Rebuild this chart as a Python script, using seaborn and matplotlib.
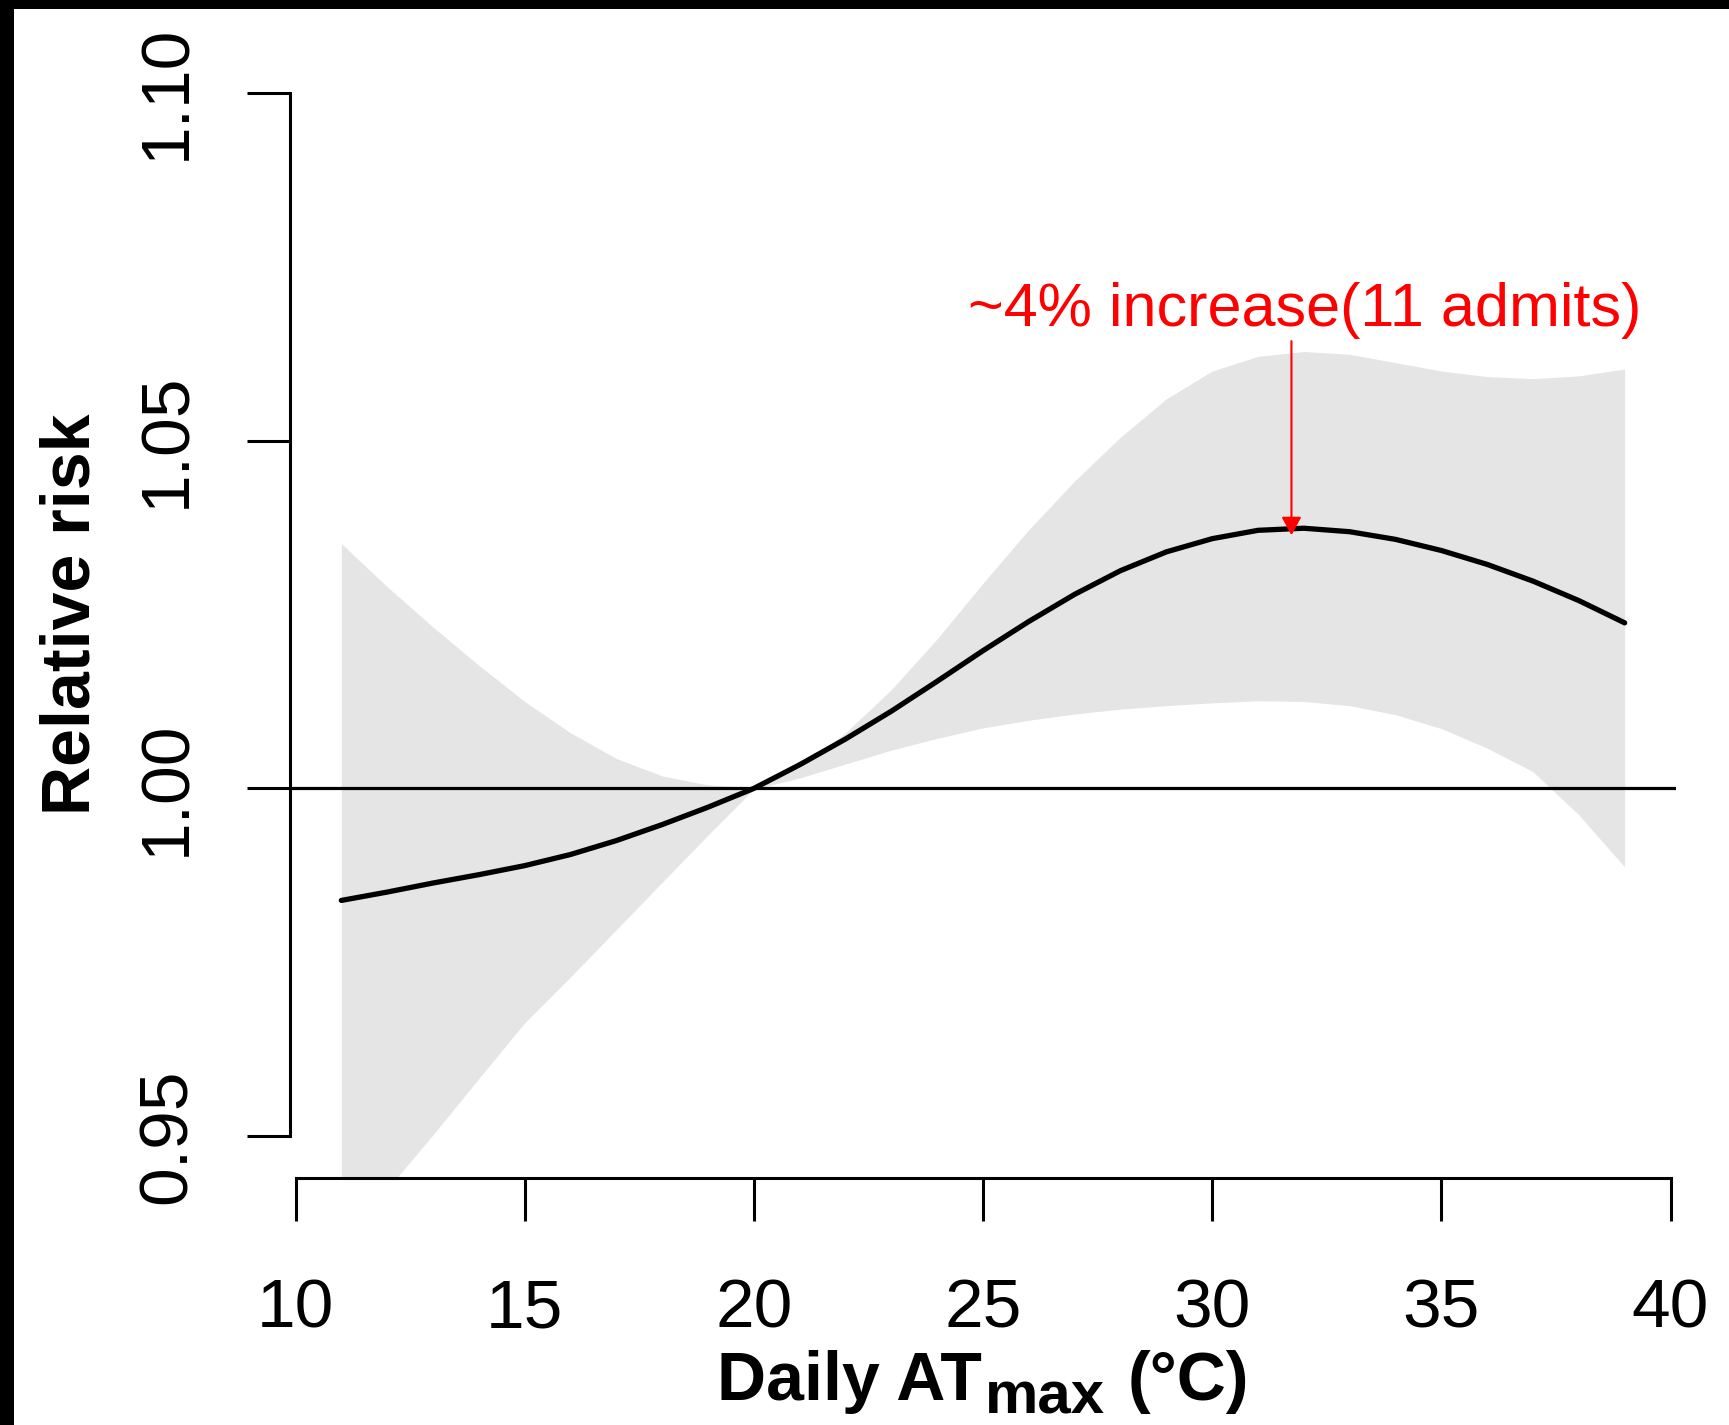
import matplotlib
matplotlib.use("Agg")
import matplotlib.pyplot as plt
from matplotlib.patches import Rectangle
import seaborn as sns

# ---------------- data ----------------
temp = [11, 12, 13, 14, 15, 16, 17, 18, 19, 20,
        21, 22, 23, 24, 25, 26, 27, 28, 29, 30,
        31, 32, 33, 34, 35, 36, 37, 38, 39]
rr = [0.9839, 0.9851, 0.9864, 0.9876, 0.9889, 0.9905, 0.9925, 0.9948, 0.9973, 1.0000,
      1.0034, 1.0071, 1.0111, 1.0154, 1.0198, 1.0240, 1.0279, 1.0313, 1.0340, 1.0359,
      1.0371, 1.0374, 1.0369, 1.0358, 1.0342, 1.0322, 1.0298, 1.0270, 1.0238]
rr_low = [0.9345, 0.9424, 0.9502, 0.9583, 0.9663, 0.9729, 0.9797, 0.9865, 0.9933, 0.9999,
          1.0015, 1.0035, 1.0055, 1.0072, 1.0087, 1.0098, 1.0107, 1.0114, 1.0119, 1.0123,
          1.0126, 1.0125, 1.0119, 1.0106, 1.0086, 1.0058, 1.0024, 0.9962, 0.9887]
rr_high = [1.0352, 1.0290, 1.0232, 1.0177, 1.0125, 1.0080, 1.0043, 1.0018, 1.0005, 1.0001,
           1.0030, 1.0080, 1.0142, 1.0215, 1.0295, 1.0372, 1.0442, 1.0505, 1.0560, 1.0600,
           1.0621, 1.0628, 1.0624, 1.0612, 1.0600, 1.0592, 1.0589, 1.0593, 1.0603]
x_ticks = [10, 15, 20, 25, 30, 35, 40]
y_ticks = [0.95, 1.00, 1.05, 1.10]
y_tick_labels = ["0.95", "1.00", "1.05", "1.10"]
ref_rr = 1.0
note_text = "~4% increase(11 admits)"
note_x, note_y = 32.02, 1.0665
arrow_x, arrow_from, arrow_to = 31.73, 1.0643, 1.0364

# ---------------- figure ----------------
sns.set_theme(style="white")
plt.rcParams["font.family"] = ["Liberation Sans", "DejaVu Sans"]
plt.rcParams["text.color"] = "black"
plt.rcParams["axes.labelcolor"] = "black"

W, H, DPI = 1729, 1425, 100
fig = plt.figure(figsize=(W / DPI, H / DPI), dpi=DPI)
fig.patch.set_facecolor("white")
ax = fig.add_axes([290 / W, 1 - 1178 / H, (1676 - 290) / W, (1178 - 51) / H])
ax.set_facecolor("white")

ax.fill_between(temp, rr_low, rr_high, color="#e5e5e5", lw=0, zorder=1)
ax.axhline(ref_rr, color="black", lw=2.3, zorder=2)
sns.lineplot(x=temp, y=rr, ax=ax, color="black", lw=3.8, zorder=3)

ax.set_xlim(9.88, 40.12)
ax.set_ylim(0.944, 1.106)

for s in ["top", "right"]:
    ax.spines[s].set_visible(False)
for s in ["left", "bottom"]:
    ax.spines[s].set_color("black")
    ax.spines[s].set_linewidth(2.2)
ax.spines["left"].set_bounds(0.95, 1.10)
ax.spines["bottom"].set_bounds(10, 40)

ax.set_xticks(x_ticks)
ax.set_xticklabels([str(t) for t in x_ticks])
ax.set_yticks(y_ticks)
ax.set_yticklabels(y_tick_labels)
ax.tick_params(axis="both", direction="out", length=31, width=2.2,
               labelsize=50, color="black", labelcolor="black",
               left=True, bottom=True)
ax.tick_params(axis="x", pad=41)
ax.tick_params(axis="y", pad=34, labelrotation=90)
for lbl in ax.get_yticklabels():
    lbl.set_va("center")
ax.set_xlabel("")
ax.set_ylabel("")
ax.grid(False)

# annotation
ax.text(note_x, note_y, note_text, color="red", fontsize=44,
        ha="center", va="baseline", zorder=5)
ax.annotate("", xy=(arrow_x, arrow_to), xytext=(arrow_x, arrow_from),
            arrowprops=dict(arrowstyle="-|>,head_length=1.1,head_width=0.6",
                            color="red", lw=1.5, shrinkA=0, shrinkB=0,
                            mutation_scale=10), zorder=5)

# y label
fig.text(72 / W, 1 - 614.5 / H, "Relative risk", rotation=90,
         ha="center", va="center", fontsize=49, fontweight="bold", color="black")

# x label with subscript built from pieces
size = 49
base_y = 1 - 1400 / H
sub_y = 1 - 1413 / H
t1 = fig.text(0, base_y, "Daily AT", fontsize=size, fontweight="bold",
              va="baseline", ha="left", color="black")
t2 = fig.text(0, sub_y, "max", fontsize=size * 0.88, fontweight="bold",
              va="baseline", ha="left", color="black")
t3 = fig.text(0, base_y, "(°C)", fontsize=size, fontweight="bold",
              va="baseline", ha="left", color="black")
r = fig.canvas.get_renderer()
w1 = t1.get_window_extent(r).width
w2 = t2.get_window_extent(r).width
w3 = t3.get_window_extent(r).width
gap1, gap2 = 3, 22
total = w1 + gap1 + w2 + gap2 + w3
x0 = 983 - total / 2
t1.set_x(x0 / W)
t2.set_x((x0 + w1 + gap1) / W)
t3.set_x((x0 + w1 + gap1 + w2 + gap2) / W)

# black border strips of the original screenshot
fig.add_artist(Rectangle((0, 0), 14 / W, 1, transform=fig.transFigure,
                         facecolor="black", edgecolor="none", zorder=10))
fig.add_artist(Rectangle((0, 1 - 9 / H), 1, 9 / H, transform=fig.transFigure,
                         facecolor="black", edgecolor="none", zorder=10))

fig.savefig("out.png", dpi=DPI)
